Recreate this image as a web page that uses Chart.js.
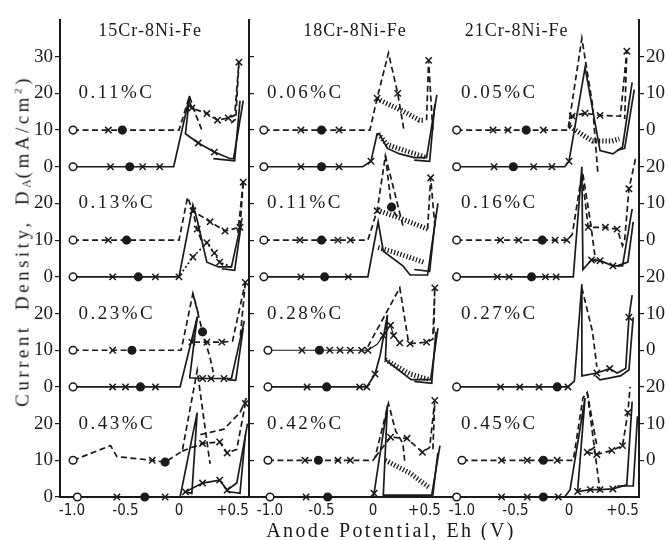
<!DOCTYPE html>
<html><head><meta charset="utf-8">
<script src="https://cdn.jsdelivr.net/npm/chart.js@4.4.1/dist/chart.umd.min.js"></script>
<style>
html,body{margin:0;padding:0;background:#fff;}
#wrap{position:relative;width:669px;height:540px;overflow:hidden;background:#fff;}
canvas{position:absolute;left:0;top:0;}
.ttl{position:absolute;white-space:nowrap;font-family:"Liberation Serif",serif;color:#1a1a1a;}
#ytitle{left:23px;top:241px;font-size:19px;letter-spacing:3.5px;word-spacing:6px;transform:translate(-50%,-50%) rotate(-90deg);}
#ytitle sub{font-size:12px;vertical-align:-2px;letter-spacing:1px;}
#ytitle sup{font-size:11px;vertical-align:7px;}
#xtitle{left:391px;top:530px;font-size:20px;letter-spacing:2.4px;transform:translate(-50%,-50%);}
</style></head>
<body><div id="wrap">
<canvas id="cA" width="669" height="540"></canvas>
<canvas id="cB" width="669" height="540"></canvas>
<canvas id="cC" width="669" height="540"></canvas>
<div id="ytitle" class="ttl">Current Density, D<sub>A</sub>(mA/cm<sup>2</sup>)</div>
<div id="xtitle" class="ttl">Anode Potential, Eh (V)</div>
</div>
<script>
const INK = '#1a1a1a';
const columnTitles = ['15Cr-8Ni-Fe', '18Cr-8Ni-Fe', '21Cr-8Ni-Fe'];
const carbonA = ['0.11%C', '0.13%C', '0.23%C', '0.43%C'];
const carbonB = ['0.06%C', '0.11%C', '0.28%C', '0.42%C'];
const carbonC = ['0.05%C', '0.16%C', '0.27%C', '0.45%C'];
const xTickValues = [-1.0, -0.5, 0, 0.5];
const xTickLabels = ['-1.0', '-0.5', '0', '+0.5'];
const leftTickValues = [0, 10, 20, 30, 40, 50, 60, 70, 80, 90, 100, 110, 120];
const leftTickLabels = ['0', '10', '20', '0', '10', '20', '0', '10', '20', '0', '10', '20', '30'];
const rightTickValues = [10, 20, 30, 40, 50, 60, 70, 80, 90, 100, 110, 120];
const rightTickLabels = ['0', '10', '20', '0', '10', '20', '0', '10', '20', '0', '10', '20'];
const ROW_STEP = 30, DASH_OFFSET = 10;

// Each point: [potential V, current density mA/cm2 relative to its curve baseline, marker]
// markers: 'o' open circle, 'x' cross, '*' filled dot
// 15Cr-8Ni-Fe
const A1S = [[-0.99,0,'o'],[-0.64,0,'x'],[-0.46,0,'*'],[-0.34,0,'x'],[-0.18,0,'x'],[-0.05,0],[0.10,19.3],[0.06,9],[0.18,6.5,'x'],[0.33,4,'x'],[0.48,2.2],[0.51,2.2],[0.60,18]];
const A1R = [[0.57,18],[0.52,1.6],[0.32,2.2]];
const A1D = [[-0.99,0,'o'],[-0.66,0,'x'],[-0.53,0,'*'],[0.0,0],[0.09,8.5],[0.12,6,'x'],[0.26,4.5,'x'],[0.36,2.7,'x'],[0.46,3.3,'x'],[0.52,4],[0.56,18.5,'x']];
const A1E = [[0.56,18.5],[0.53,3],[0.47,1.5],null,[0.10,9],[0.16,4],[0.22,-0.5]];
const A2S = [[-0.99,0,'o'],[-0.62,0,'x'],[-0.38,0,'*'],[-0.22,0,'x'],[0.0,0,'x'],[0.13,19.6],[0.17,15.5],[0.26,4],[0.37,2.7],[0.49,2.7],[0.59,16]];
const A2R = [[0.58,14],[0.52,1.8],[0.40,2.2]];
const A2X = [[0.01,0.5],[0.13,5.4,'x'],[0.26,9.3,'x'],[0.33,6.5,'x'],[0.38,4,'x'],[0.49,2.7]];
const A2D = [[-0.99,0,'o'],[-0.66,0,'x'],[-0.49,0,'*'],[0.0,0],[0.08,11.7],[0.13,8,'x'],[0.29,5,'x'],[0.43,2.5,'x'],[0.57,3.5,'x'],[0.60,15.8,'x']];
const A2E = [[0.60,15.8],[0.55,2],null,[0.12,9],[0.17,3,'x'],[0.22,-1]];
const A3S = [[-0.99,0,'o'],[-0.62,0,'x'],[-0.50,0,'x'],[-0.36,0,'*'],[-0.22,0,'x'],[0.01,0],[0.17,19],[0.10,2.5],[0.22,2.3,'x'],[0.30,2.3,'x'],[0.42,2.3,'x'],[0.49,2.3],[0.61,18]];
const A3R = [[0.60,16],[0.53,1.8],[0.45,2]];
const A3D = [[-0.99,0,'o'],[-0.62,0,'x'],[-0.44,0,'*'],[0.02,0],[0.13,15.5],[0.18,10],[0.12,2.2,'x'],[0.26,2.2,'x'],[0.40,2.2,'x'],[0.50,2.5],[0.62,18.5,'x']];
const A3E = [[0.13,15.5],[0.22,5,'*'],[0.29,-2],[0.32,-6],null,[0.62,18.5],[0.57,3]];
const A4S = [[-0.95,0,'o'],[-0.58,0,'x'],[-0.32,0,'*'],[-0.13,0,'x'],[0.01,0],[0.17,23],[0.12,1],[0.06,1.4,'x'],[0.22,3.8,'x'],[0.38,4.6,'x'],[0.45,1.9,'x'],[0.54,3.8],[0.64,20]];
const A4R = [[0.62,17],[0.57,1],[0.45,1.5]];
const A4D = [[-0.99,0,'o'],[-0.64,4],[-0.58,1],[-0.25,0,'x'],[-0.13,-0.5,'*'],[0.03,2.5],[0.17,24.5],[0.29,-1]];
const A4E = [[0.03,2.5],[0.22,4.6,'x'],[0.38,5,'x'],[0.45,2,'x'],[0.54,3],[0.62,15.5,'x'],null,[0.20,7],[0.42,8.5],[0.57,13],[0.63,17]];
// 18Cr-8Ni-Fe
const B1S = [[-1.06,0,'o'],[-0.70,0,'x'],[-0.50,0,'*'],[-0.33,0,'x'],[-0.10,0],[-0.02,1.5,'x'],[0.04,9],[0.06,9],[0.14,5],[0.26,3.5],[0.40,2.5],[0.52,2.5],[0.62,19.6]];
const B1R = [[0.60,17],[0.55,1.5],[0.40,1.8]];
const B1H = [[0.05,9],[0.14,6],[0.30,4.5],[0.52,2.5]];
const B1D = [[-1.06,0,'o'],[-0.70,0,'x'],[-0.50,0,'*'],[-0.33,0,'x'],[-0.03,0],[0.04,8.7,'x'],[0.15,21],[0.24,10,'x'],[0.30,0]];
const B1HU = [[0.04,8.5],[0.33,4.6],[0.45,2.7],[0.50,2.7]];
const B1E = [[0.52,2.7],[0.54,19,'x'],[0.58,0]];
const B2S = [[-1.06,0,'o'],[-0.70,0,'x'],[-0.47,0,'*'],[-0.24,0,'x'],[-0.05,0],[0.05,15],[0.10,7],[0.29,3],[0.36,0.5],[0.53,0.5],[0.63,20]];
const B2R = [[0.61,17],[0.55,1.5],[0.40,2]];
const B2H = [[0.05,8],[0.23,6.5],[0.49,4]];
const B2D = [[-1.06,0,'o'],[-0.71,0,'x'],[-0.50,0,'*'],[-0.34,0,'x'],[-0.22,0,'x'],[-0.05,0],[0.04,8,'x'],[0.12,23],[0.29,4]];
const B2HU = [[0.04,8.2],[0.29,5.7],[0.53,3]];
const B2E = [[0.53,3],[0.56,17,'x'],[0.60,4],null,[0.12,23],[0.18,9,'*'],[0.24,6]];
const B3S = [[-1.02,0,'o'],[-0.64,0,'x'],[-0.45,0,'*'],[-0.13,0,'x'],[-0.06,0,'x'],[0.02,3.5,'x'],[0.07,8.7],[0.14,19.6],[0.12,7.4],[0.37,2],[0.56,2],[0.63,16]];
const B3R = [[0.61,15],[0.57,1],[0.40,1.5]];
const B3H = [[0.12,7.4],[0.36,3.5],[0.55,2]];
const B3U = [[-1.02,0,'o'],[-0.69,0,'x'],[-0.52,0,'*'],[-0.42,0,'x'],[-0.32,0,'x'],[-0.22,0,'x'],[-0.11,0,'x'],[-0.05,0,'x'],[0.04,1.6],[0.10,4,'x'],[0.17,6.8,'x'],[0.20,4,'x'],[0.26,2,'x']];
const B3D = [[-0.05,1],[0.26,17],[0.30,10],[0.34,3],[0.36,1.8,'x'],[0.52,2.2,'x'],[0.58,3],[0.60,17,'x'],[0.59,4]];
const B4S = [[-1.00,0,'o'],[-0.65,0,'x'],[-0.44,0,'*'],[0.0,0],[0.01,1,'x'],[0.14,25],[0.10,0.5],[0.57,0.5],[0.65,14]];
const B4R = [[0.63,12],[0.58,0.3]];
const B4H = [[0.12,10],[0.36,6.5],[0.54,2.7]];
const B4D = [[-1.02,0,'o'],[-0.66,0,'x'],[-0.53,0,'*'],[-0.34,0,'x'],[-0.22,0,'x'],[0.0,0],[0.02,0.8],[0.15,15.5],[0.22,8],[0.29,4.6],[0.31,-0.8]];
const B4E = [[0.02,0.8],[0.17,6.3,'x'],[0.33,6,'x'],[0.48,2.2,'x'],[0.55,3.5],[0.60,16.3,'x'],[0.58,2]];
// 21Cr-8Ni-Fe
const C1S = [[-1.05,0,'o'],[-0.70,0,'x'],[-0.52,0,'*'],[-0.33,0,'x'],[-0.16,0,'x'],[-0.04,0],[0.0,1.5,'x'],[0.15,27],[0.29,4.4],[0.41,3.5],[0.50,5.4],[0.59,23]];
const C1R = [[0.61,21],[0.52,5],[0.45,4.5]];
const C1H = [[0.01,10.9],[0.22,7],[0.40,7],[0.47,7.6]];
const C1D = [[-1.05,0,'o'],[-0.71,0,'x'],[-0.57,0,'x'],[-0.40,0,'*'],[-0.24,0,'x'],[-0.01,0],[0.12,25],[0.22,6.8],[0.27,-12]];
const C1E = [[0.0,0.5],[0.03,3.8,'x'],[0.15,4.6,'x'],[0.29,4,'x'],[0.48,3.8],[0.54,21.5,'x'],[0.52,3]];
const C2S = [[-1.05,0,'o'],[-0.67,0,'x'],[-0.56,0,'x'],[-0.35,0,'*'],[-0.22,0,'x'],[-0.12,0,'x'],[0.04,0],[0.12,30],[0.13,2],[0.21,4.6,'x'],[0.29,4.4,'x'],[0.41,3,'x'],[0.50,3],[0.59,18.5]];
const C2R = [[0.60,15],[0.55,4],[0.45,3]];
const C2D = [[-1.05,0,'o'],[-0.64,0,'x'],[-0.47,0,'x'],[-0.25,0,'*'],[-0.13,0,'x'],[-0.02,0,'x'],[0.03,1.5],[0.12,18],[0.18,3.5,'x'],[0.34,3.5,'x'],[0.45,3,'x'],[0.50,-1.5],[0.52,0],[0.56,14,'x'],[0.62,22],[0.65,22]];
const C2E = [[0.13,18],[0.20,5],[0.25,-6]];
const C3S = [[-1.05,0,'o'],[-0.64,0,'x'],[-0.46,0,'x'],[-0.28,0,'x'],[-0.11,0,'*'],[-0.01,0,'x'],[0.05,1.6],[0.12,28],[0.12,3],[0.26,3.8,'x'],[0.38,5,'x'],[0.45,3.8],[0.53,5],[0.56,19,'x'],[0.59,25]];
const C3R = [[0.60,19],[0.56,4.6],[0.48,3],[0.29,1.9],[0.25,3]];
const C3D = [[0.12,27],[0.22,15],[0.26,5.5]];
const C4S = [[-1.05,0,'o'],[-0.63,0,'x'],[-0.39,0,'x'],[-0.24,0,'*'],[-0.10,0,'x'],[-0.04,0],[0.01,2],[0.15,27],[0.08,1.5,'x'],[0.20,2,'x'],[0.29,2,'x'],[0.41,2.2,'x'],[0.54,3.3],[0.59,26]];
const C4R = [[0.64,22],[0.60,3],[0.45,3]];
const C4D = [[-1.0,0,'o'],[-0.63,0,'x'],[-0.39,0,'x'],[-0.24,0,'*'],[-0.11,0,'x'],[0.04,0],[0.13,17],[0.17,18.5],[0.26,4],[0.17,2.2,'x'],[0.26,1.6,'x'],[0.40,2.7,'x'],[0.50,4,'x'],[0.55,13,'x'],[0.57,20]];
const C4E = [[0.17,18.5],[0.29,-8.5]];

const STYLE = {
  solid:  {borderDash: [], borderWidth: 1.7},
  dashed: {borderDash: [6, 3.5], borderWidth: 1.7},
  dotted: {borderDash: [2, 2.5], borderWidth: 1.7},
  hatch:  {borderDash: [1.3, 2], borderWidth: 5},
  thin:   {borderDash: [], borderWidth: 1.2}
};
function series(points, row, onDashed, style) {
  const off = (3 - row) * ROW_STEP + (onDashed ? DASH_OFFSET : 0);
  return Object.assign({
    data: points.map(p => p ? {x: p[0], y: p[1] + off, m: p[2] || ''} : {x: null, y: null}),
    showLine: true, borderColor: INK, clip: false, spanGaps: false,
    pointStyle: c => (c.raw && c.raw.m === 'x') ? 'crossRot' : 'circle',
    pointRadius: c => (c.raw && c.raw.m) ? (c.raw.m === 'x' ? 4.5 : 3.8) : 0,
    pointBackgroundColor: c => (c.raw && c.raw.m === 'o') ? '#fff' : INK,
    pointBorderColor: INK, pointBorderWidth: 1.5, pointHoverRadius: 0
  }, STYLE[style]);
}
const seriesA = [
  series(A1S,0,false,'solid'), series(A1R,0,false,'solid'), series(A1D,0,true,'dashed'), series(A1E,0,true,'dashed'),
  series(A2S,1,false,'solid'), series(A2R,1,false,'solid'), series(A2X,1,false,'dotted'), series(A2D,1,true,'dashed'), series(A2E,1,true,'dashed'),
  series(A3S,2,false,'solid'), series(A3R,2,false,'solid'), series(A3D,2,true,'dashed'), series(A3E,2,true,'dashed'),
  series(A4S,3,false,'solid'), series(A4R,3,false,'solid'), series(A4D,3,true,'dashed'), series(A4E,3,true,'dashed')
];
const seriesB = [
  series(B1H,0,false,'hatch'), series(B1HU,0,true,'hatch'), series(B1S,0,false,'solid'), series(B1R,0,false,'solid'), series(B1D,0,true,'dashed'), series(B1E,0,true,'dashed'),
  series(B2H,1,false,'hatch'), series(B2HU,1,true,'hatch'), series(B2S,1,false,'solid'), series(B2R,1,false,'solid'), series(B2D,1,true,'dashed'), series(B2E,1,true,'dashed'),
  series(B3H,2,false,'hatch'), series(B3S,2,false,'solid'), series(B3R,2,false,'solid'), series(B3U,2,true,'thin'), series(B3D,2,true,'dashed'),
  series(B4H,3,false,'hatch'), series(B4S,3,false,'solid'), series(B4R,3,false,'solid'), series(B4D,3,true,'dashed'), series(B4E,3,true,'dashed')
];
const seriesC = [
  series(C1H,0,false,'hatch'), series(C1S,0,false,'solid'), series(C1R,0,false,'solid'), series(C1D,0,true,'dashed'), series(C1E,0,true,'dashed'),
  series(C2S,1,false,'solid'), series(C2R,1,false,'solid'), series(C2D,1,true,'dashed'), series(C2E,1,true,'dashed'),
  series(C3S,2,false,'solid'), series(C3R,2,false,'solid'), series(C3D,2,false,'dashed'),
  series(C4S,3,false,'solid'), series(C4R,3,false,'solid'), series(C4D,3,true,'dashed'), series(C4E,3,true,'dashed')
];

const textPlugin = {
  id: 'panelText',
  afterDatasetsDraw(chart, args, o) {
    const ctx = chart.ctx, xs = chart.scales.x, ys = chart.scales.y;
    ctx.save();
    ctx.fillStyle = INK; ctx.textBaseline = 'middle';
    ctx.font = '18px "Liberation Serif"'; ctx.letterSpacing = '1px'; ctx.textAlign = 'center';
    ctx.fillText(o.title, xs.getPixelForValue(o.titleX), ys.getPixelForValue(127));
    ctx.font = '19px "Liberation Serif"'; ctx.letterSpacing = '2.5px'; ctx.textAlign = 'left';
    o.carbon.forEach((t, i) => ctx.fillText(t, xs.getPixelForValue(o.labelX), ys.getPixelForValue((3 - i) * ROW_STEP + 20)));
    ctx.restore();
  }
};

function xScale(min, max) {
  return {
    type: 'linear', min: min, max: max,
    afterBuildTicks: s => { s.ticks = xTickValues.map(v => ({value: v})); },
    afterFit: s => { s.height = 43; },
    ticks: {callback: (v, i) => xTickLabels[i], font: {family: '"DejaVu Sans Condensed", "DejaVu Sans"', size: 15}, color: INK, padding: 5, maxRotation: 0, autoSkip: false},
    grid: {display: true, drawOnChartArea: false, drawTicks: false},
    border: {display: true, color: INK, width: 2}
  };
}
function yScale(pos, values, labels, width, showLabels) {
  return {
    type: 'linear', position: pos, min: 0, max: 130,
    afterBuildTicks: s => { s.ticks = values.map(v => ({value: v})); },
    afterFit: s => { s.width = width; },
    ticks: {display: showLabels, callback: (v, i) => labels[i], font: {family: '"Liberation Serif"', size: 19}, color: INK, padding: 2, autoSkip: false},
    grid: {display: true, drawOnChartArea: false, drawTicks: true, tickLength: 5, color: INK, lineWidth: 1.2},
    border: {display: true, color: INK, width: 2}
  };
}
function makeChart(id, datasets, padding, scales, textOpts) {
  return new Chart(document.getElementById(id), {
    type: 'scatter',
    data: {datasets: datasets},
    options: {
      responsive: false, animation: false, devicePixelRatio: 1, events: [],
      layout: {padding: padding},
      scales: scales,
      plugins: {legend: {display: false}, tooltip: {enabled: false}, panelText: textOpts}
    },
    plugins: [textPlugin]
  });
}
makeChart('cA', seriesA, {left: 0, right: 410, top: 20, bottom: 0},
  {x: xScale(-1.112, 0.654), y: yScale('left', leftTickValues, leftTickLabels, 60, true),
   y2: yScale('right', leftTickValues, leftTickLabels, 10, false)},
  {title: columnTitles[0], titleX: -0.27, carbon: carbonA, labelX: -0.94});
makeChart('cB', seriesB, {left: 249, right: 217, top: 20, bottom: 0},
  {x: xScale(-1.204, 0.767), y: {type: 'linear', min: 0, max: 130, display: false}},
  {title: columnTitles[1], titleX: -0.175, carbon: carbonB, labelX: -1.03});
makeChart('cC', seriesC, {left: 450, right: 0, top: 20, bottom: 0},
  {x: xScale(-1.112, 0.654), y: yScale('right', rightTickValues, rightTickLabels, 30, true)},
  {title: columnTitles[2], titleX: -0.49, carbon: carbonC, labelX: -1.01});
</script>
</body></html>
